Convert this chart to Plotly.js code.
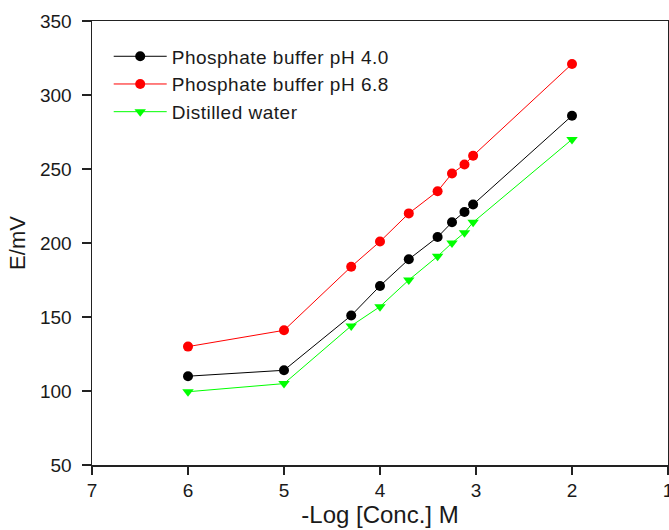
<!DOCTYPE html>
<html>
<head>
<meta charset="utf-8">
<script src="https://cdn.plot.ly/plotly-3.0.1.min.js"></script>
<style>html,body{margin:0;padding:0;background:#fff;}#chart{width:669px;height:530px;}</style>
</head>
<body>
<div id="chart"></div>
<script>
// -Log[Conc.] values (x)
const logConc = [6, 5, 4.3, 4.0, 3.7, 3.4, 3.25, 3.12, 3.03, 2];
// E/mV values per series
const phosphate40 = [110, 114, 151, 171, 189, 204, 214, 221, 226, 286];
const phosphate68 = [130, 141, 184, 201, 220, 235, 247, 253, 259, 321];
const distilled   = [99.5, 105, 144, 157, 175, 191, 200, 207, 214, 270];
const seriesNames = ["Phosphate buffer pH 4.0", "Phosphate buffer pH 6.8", "Distilled water"];
const xTicks = [7, 6, 5, 4, 3, 2, 1];
const yTicks = [50, 100, 150, 200, 250, 300, 350];

const FONT = "Arial, 'Liberation Sans', sans-serif";
const spaced = s => '<span style="letter-spacing:0.5px">' + s + '</span>';
const traces = [
  {x: logConc, y: phosphate40, name: spaced(seriesNames[0]), mode: "lines+markers",
   line: {color: "#000000", width: 1}, marker: {symbol: "circle", size: 10, color: "#000000"}},
  {x: logConc, y: phosphate68, name: spaced(seriesNames[1]), mode: "lines+markers",
   line: {color: "#ff0000", width: 1}, marker: {symbol: "circle", size: 10, color: "#ff0000"}},
  {x: logConc, y: distilled, name: spaced(seriesNames[2]), mode: "lines+markers",
   line: {color: "#00ff00", width: 1}, marker: {symbol: "triangle-down", size: 10, color: "#00ff00"}}
];

const layout = {
  width: 669, height: 530,
  margin: {l: 92, r: 1, t: 21, b: 65},
  paper_bgcolor: "#ffffff", plot_bgcolor: "#ffffff",
  font: {family: FONT, size: 19, color: "#1a1a1a"},
  showlegend: true,
  legend: {x: 0.029, y: 0.963, xanchor: "left", yanchor: "top", bgcolor: "rgba(0,0,0,0)",
           font: {family: FONT, size: 19, color: "#1a1a1a"}, itemwidth: 53, tracegroupgap: 0},
  xaxis: {
    range: [7, 1], tickvals: xTicks, ticktext: xTicks.map(String),
    showgrid: false, zeroline: false, showline: true, linecolor: "#222", linewidth: 1.5,
    mirror: true, ticks: "outside", ticklen: 8, tickwidth: 1.5, tickcolor: "#222",
    ticklabeloverflow: "allow",
    tickfont: {family: FONT, size: 19, color: "#1a1a1a"},
    title: {text: "-Log [Conc.] M", font: {family: FONT, size: 24, color: "#1a1a1a"}, standoff: 5}
  },
  yaxis: {
    range: [50, 350], tickvals: yTicks,
    showgrid: false, zeroline: false, showline: true, linecolor: "#222", linewidth: 1.5,
    mirror: true, ticks: "outside", ticklen: 9, tickwidth: 1.5, tickcolor: "#222",
    ticklabelstandoff: 6,
    tickfont: {family: FONT, size: 19, color: "#1a1a1a"},
    title: {text: "E/mV", font: {family: FONT, size: 22, color: "#1a1a1a"}, standoff: 8}
  }
};

Plotly.newPlot("chart", traces, layout, {displayModeBar: false, staticPlot: true});
</script>
</body>
</html>
